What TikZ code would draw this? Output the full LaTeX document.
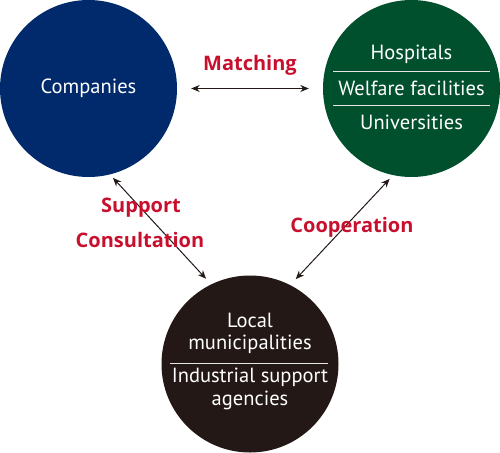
\documentclass[tikz,border=0pt]{standalone}
\usepackage{fontspec}
\setmainfont{PT Sans}
\newfontfamily\lblfont{Open Sans}
\usetikzlibrary{arrows.meta}
\definecolor{cblue}{HTML}{002A6C}
\definecolor{cgreen}{HTML}{004F2D}
\definecolor{cdark}{HTML}{231815}
\definecolor{cred}{HTML}{C8102E}
\begin{document}
\begin{tikzpicture}[x=1pt,y=-1pt,
  bigcirc/.style={circle,inner sep=0pt,minimum size=177pt,draw=none},
  intext/.style={text=white,font=\fontsize{20.5}{22.5}\selectfont,inner sep=0pt,align=center},
  lbl/.style={text=cred,font=\lblfont\bfseries\fontsize{20}{22}\selectfont,inner sep=0pt,align=center},
  sepline/.style={draw=white!80!gray,line width=0.6pt},
  conn/.style={draw=cdark,line width=1pt,{Stealth[length=8.5pt,width=7pt]}-{Stealth[length=8.5pt,width=7pt]}}]
\useasboundingbox (0,0) rectangle (500,452);
\node[bigcirc,fill=cblue] (comp) at (88.5,88.5) {};
\node[bigcirc,fill=cgreen] (inst) at (411.5,88.5) {};
\node[bigcirc,fill=cdark] (loc) at (250,364) {};
\node[intext] (tcomp) at (88.5,88) {Companies};
\node[intext] (thosp) at (411.5,54) {Hospitals};
\node[intext] (twelf) at (411.5,88) {Welfare facilities};
\node[intext] (tuni) at (411.5,122) {Universities};
\draw[sepline] (333,71) -- (490,71);
\draw[sepline] (333,105) -- (490,105);
\node[intext] (tlocal) at (250,333.5) {Local\\municipalities};
\draw[sepline] (170,363) -- (328,363);
\node[intext] (tind) at (250,389) {Industrial support\\agencies};
\draw[conn,shorten <=14pt,shorten >=14pt] (comp.0) -- (inst.180);
\draw[conn,shorten <=4.5pt,shorten >=7.5pt] (comp.-76) -- (loc.116);
\draw[conn,shorten <=5pt,shorten >=8pt] (inst.-102) -- (loc.63);
\node[lbl] (lmatch) at (250,65) {Matching};
\node[lbl] (lsupp) at (141,208) {Support};
\node[lbl] (lcons) at (140,240) {Consultation};
\node[lbl] (lcoop) at (352,227) {Cooperation};
\end{tikzpicture}
\end{document}
